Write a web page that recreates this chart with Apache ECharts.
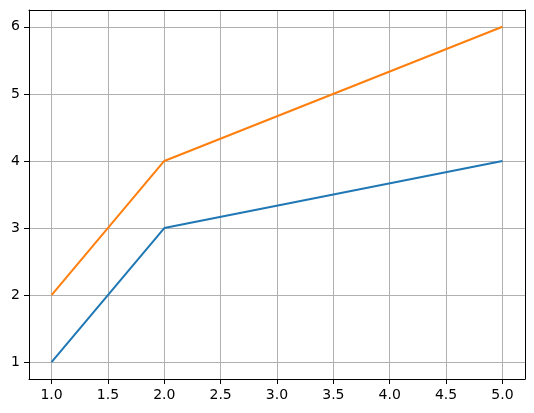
<!DOCTYPE html>
<html>
<head>
<meta charset="utf-8">
<script src="https://cdn.jsdelivr.net/npm/echarts@6/dist/echarts.min.js"></script>
<style>
html,body{margin:0;padding:0;background:#fff;}
#chart{width:534px;height:413px;}
</style>
</head>
<body>
<div id="chart"></div>
<script>
const xValues = [1, 2, 5];
const seriesA = [1, 3, 4];
const seriesB = [2, 4, 6];
const xTicks = [1.0, 1.5, 2.0, 2.5, 3.0, 3.5, 4.0, 4.5, 5.0];
const yTicks = [1, 2, 3, 4, 5, 6];

const chart = echarts.init(document.getElementById('chart'), null, {renderer: 'canvas'});
const font = 'DejaVu Sans';
const frameAxis = {
  type: 'value',
  axisLine: {show: true, onZero: false, lineStyle: {color: '#000', width: 1}},
  axisTick: {show: false}, axisLabel: {show: false}, splitLine: {show: false}
};
chart.setOption({
  animation: false,
  backgroundColor: '#fff',
  grid: {left: 29, right: 9, top: 10, bottom: 34, show: false},
  xAxis: [{
    type: 'value', min: 0.8, max: 5.2, position: 'bottom',
    axisLine: {show: true, onZero: false, lineStyle: {color: '#000', width: 1}},
    axisTick: {show: true, inside: false, length: 5, lineStyle: {color: '#000', width: 1}, customValues: xTicks},
    axisLabel: {customValues: xTicks, color: '#000', fontFamily: font, fontSize: 14, margin: 9,
      formatter: v => Number(v).toFixed(1)},
    splitLine: {show: true, lineStyle: {color: '#b0b0b0', width: 1}}
  }, Object.assign({}, frameAxis, {min: 0.8, max: 5.2, position: 'top'})],
  yAxis: [{
    type: 'value', min: 0.75, max: 6.25, position: 'left',
    axisLine: {show: true, onZero: false, lineStyle: {color: '#000', width: 1}},
    axisTick: {show: true, inside: false, length: 5, lineStyle: {color: '#000', width: 1}, customValues: yTicks},
    axisLabel: {customValues: yTicks, color: '#000', fontFamily: font, fontSize: 14, margin: 9,
      formatter: v => String(Math.round(v))},
    splitLine: {show: true, lineStyle: {color: '#b0b0b0', width: 1}}
  }, Object.assign({}, frameAxis, {min: 0.75, max: 6.25, position: 'right'})],
  series: [
    {type: 'line', data: xValues.map((x, i) => [x, seriesA[i]]), showSymbol: false, lineStyle: {color: '#1f77b4', width: 2}, itemStyle: {color: '#1f77b4'}},
    {type: 'line', data: xValues.map((x, i) => [x, seriesB[i]]), showSymbol: false, lineStyle: {color: '#ff7f0e', width: 2}, itemStyle: {color: '#ff7f0e'}}
  ]
});
</script>
</body>
</html>
